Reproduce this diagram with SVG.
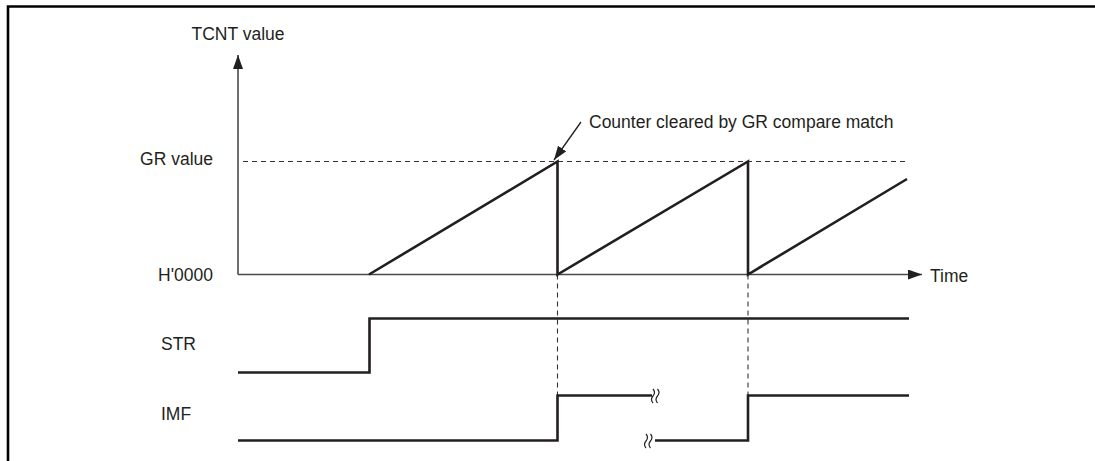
<svg xmlns="http://www.w3.org/2000/svg" width="1095" height="461" viewBox="0 0 1095 461">
<style>
text{font-family:"Liberation Sans",Arial,sans-serif;font-size:17.5px;fill:#231f20}
.ax{stroke:#4a4a4a;stroke-width:1.6;fill:none}
.sig{stroke:#231f20;stroke-width:2.6;fill:none;stroke-linejoin:miter}
.dash{stroke:#333;stroke-width:1.1;stroke-dasharray:5,4;fill:none}
.sq{stroke:#231f20;stroke-width:1.2;fill:none}
</style>
<defs>
<marker id="ah" markerWidth="14" markerHeight="10" refX="14" refY="5" orient="auto" markerUnits="userSpaceOnUse">
<path d="M0,0 L14,5 L0,10 Z" fill="#231f20"/>
</marker>
</defs>
<rect width="1095" height="461" fill="#fff"/>
<g id="frame"><path d="M8,461 V6.5 H1095" stroke="#000" stroke-width="2.6" fill="none"/></g>
<g id="labels">
<text id="tcnt" x="238" y="40" text-anchor="middle">TCNT value</text>
<text id="grv" x="213" y="165" text-anchor="end">GR value</text>
<text id="h0000" x="213" y="281" text-anchor="end">H'0000</text>
<text id="str" x="161" y="350">STR</text>
<text id="imf" x="161" y="420">IMF</text>
<text id="time" x="930" y="282">Time</text>
<text id="note" x="589" y="128">Counter cleared by GR compare match</text>
</g>
<g id="connectors">
<line class="ax" x1="238" y1="274.5" x2="238" y2="55" marker-end="url(#ah)"/>
<line class="ax" x1="238" y1="274.5" x2="922" y2="274.5" marker-end="url(#ah)"/>
<line class="dash" x1="243" y1="161.5" x2="907" y2="161.5"/>
<line class="dash" x1="557.5" y1="274.5" x2="557.5" y2="395"/>
<line class="dash" x1="748" y1="274.5" x2="748" y2="395"/>
<line x1="581" y1="122" x2="554" y2="160" stroke="#231f20" stroke-width="1.3" marker-end="url(#ah)"/>
</g>
<g id="tcnt-wave"><path class="sig" d="M369,274.5 L557.5,161.5 V274.5 L748,161.5 V274.5 L907,179"/></g>
<g id="str-wave"><path class="sig" d="M238,372.5 H369.5 V318.5 H909"/></g>
<g id="imf-wave">
<path class="sig" d="M238,440.5 H557.5 V395.5 H652"/>
<path class="sig" d="M655,440.5 H748 V395.5 H909"/>
<path class="sq" d="M653,389 q3,3.5 0,7 q-3,3.5 0,7 M657.5,389 q3,3.5 0,7 q-3,3.5 0,7"/>
<path class="sq" d="M646,434 q3,3.5 0,7 q-3,3.5 0,7 M650.5,434 q3,3.5 0,7 q-3,3.5 0,7"/>
</g>
</svg>
